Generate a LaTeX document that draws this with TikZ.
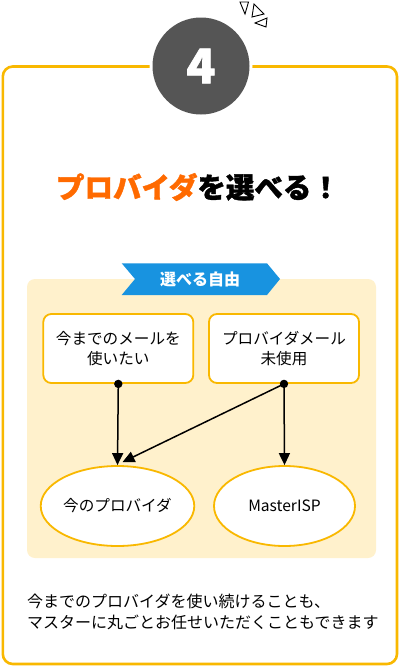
\documentclass[tikz,border=0pt]{standalone}
\usepackage{fontspec}
\newfontfamily\cjk{Noto Sans CJK JP}
\newfontfamily\cjkheavy[BoldFeatures={FakeBold=1.3}]{Noto Sans CJK JP}
\usetikzlibrary{shapes.geometric,arrows.meta,calc}
\definecolor{frameY}{HTML}{F9B800}
\definecolor{panelY}{HTML}{FFF1CC}
\definecolor{bannerB}{HTML}{1893E0}
\definecolor{circG}{HTML}{555555}
\definecolor{titleO}{HTML}{FF6A00}
\tikzset{
  choicebox/.style={draw=frameY, line width=1.8pt, fill=white, rounded corners=8pt,
    minimum width=150pt, minimum height=69pt, align=center, inner sep=0pt,
    font=\cjk\fontsize{15.6}{20}\selectfont},
  optell/.style={ellipse, draw=frameY, line width=1.8pt, fill=white,
    minimum width=141pt, minimum height=80pt, inner sep=0pt,
    font=\cjk\fontsize{15.6}{20}\selectfont},
  flow/.style={line width=1.5pt, -{Triangle[length=12pt,width=11pt]}},
  spark/.style={draw=black, line width=0.9pt, line join=miter}
}
\begin{document}
\begin{tikzpicture}[x=1pt,y=-1pt]
\useasboundingbox (0,0) rectangle (403,667);
\fill[white] (0,0) rectangle (403,667);
% outer frame
\draw[frameY, line width=2.6pt, rounded corners=10pt] (2.8,66.5) rectangle (397,664);
% number circle
\fill[white] (201,66) circle (51.5);
\node[circle, fill=circG, minimum size=97pt, inner sep=0pt, text=white,
  font=\cjkheavy\bfseries\fontsize{48}{48}\selectfont] (num) at (201,66) {4};
% spark marks
\draw[spark] (240,2) -- (248.5,2) -- (245,14) -- cycle;
\draw[spark] (254,4) -- (264,14) -- (252,17) -- cycle;
\draw[spark] (255,23) -- (267,18) -- (266,27) -- cycle;
% title
\node[font=\cjkheavy\bfseries\fontsize{28.5}{32}\selectfont] (title) at (198,187)
  {{\color{titleO}プロバイダ}を選べる！};
% panel
\fill[panelY, rounded corners=8pt] (27,279) rectangle (376,558);
% banner
\fill[bannerB] (121.7,263.3) -- (267,263.3) -- (280,279) -- (267,295) -- (121.7,295) -- (135,279) -- cycle;
\node[text=white, font=\cjk\bfseries\fontsize{16}{18}\selectfont] (ban) at (200,279) {選べる自由};
% boxes
\node[choicebox] (b1) at (118.3,348.5) {今までのメールを\\使いたい};
\node[choicebox] (b2) at (284,348.5) {プロバイダメール\\未使用};
% ellipses
\node[optell] (e1) at (117.5,506) {今のプロバイダ};
\node[optell] (e2) at (284.5,506) {MasterISP};
% connectors
\draw[flow] (b1.south) -- (e1.north);
\draw[flow] (b2.south) -- (e2.north);
\draw[flow] (b2.south) -- ($(e1.north)+(5,-3)$);
\fill (b1.south) circle (4.2);
\fill (b2.south) circle (4.2);
% bottom text
\node[anchor=west, align=left, inner sep=0pt, font=\cjk\fontsize{16}{20.5}\selectfont] (desc) at (27,612)
  {今までのプロバイダを使い続けることも、\\マスターに丸ごとお任せいただくこともできます};
\end{tikzpicture}
\end{document}
